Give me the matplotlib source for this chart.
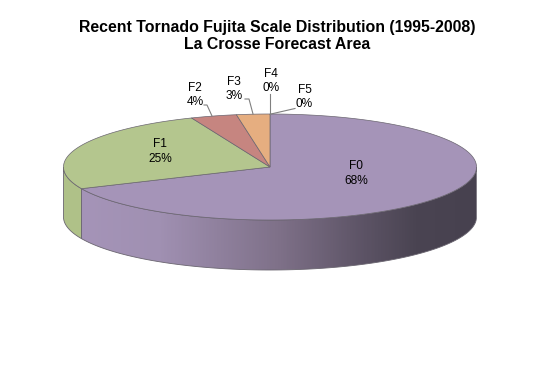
"""Recent tornado Fujita scale distribution, drawn as a tilted 3D pie"""

import numpy as np
import matplotlib
matplotlib.use('Agg')
import matplotlib.pyplot as plt
from matplotlib.colors import LinearSegmentedColormap
from matplotlib.patches import PathPatch, Polygon
from matplotlib.path import Path

plt.rcParams['font.family'] = ['Liberation Sans', 'DejaVu Sans']

# data
scales = ['F0', 'F1', 'F2', 'F3', 'F4', 'F5']
shares = [68.3, 25.5, 3.6, 2.6, 0.0, 0.0]
percent_labels = ['68%', '25%', '4%', '3%', '0%', '0%']
colors = ['#A594B8', '#B4C68E', '#C68580', '#E6AE80', '#A594B8', '#A594B8']
side_color_f1 = '#AFC188'

title_lines = 'Recent Tornado Fujita Scale Distribution (1995-2008)\nLa Crosse Forecast Area'

# pie geometry in pixels
CX, CY = 270, 167
RX, RY = 206.5, 53
DEPTH = 50
EDGE = '#6A6570'

# label centres and leader lines, in pixels
label_pos = {
    'F0': (356, 173.5), 'F1': (160, 151.5), 'F2': (195, 95),
    'F3': (234, 89), 'F4': (271, 81), 'F5': (304.5, 97),
}
leaders = {
    'F2': [(204, 105), (207, 105), (212, 116)],
    'F3': [(245, 99), (249, 99), (253, 114)],
    'F4': [(270, 94), (270, 114)],
    'F5': [(295, 108.5), (271, 114)],
}


def rim(theta_deg):
    """角度(12時から時計回り)を楕円上のピクセル座標に変換"""
    t = np.radians(theta_deg)
    return CX + RX * np.sin(t), CY - RY * np.cos(t)


def side_wall(a, b):
    """a〜b度の側面ポリゴンの頂点"""
    th = np.linspace(a, b, 150)
    x, y = rim(th)
    top = np.column_stack([x, y])
    bottom = np.column_stack([x, y + DEPTH])[::-1]
    return np.vstack([top, bottom])


fig = plt.figure(figsize=(5.4, 3.68), dpi=100)
ax = fig.add_axes([0, 0, 1, 1])
ax.set_xlim(0, 540)
ax.set_ylim(368, 0)
ax.axis('off')

# slice boundaries
cum = np.cumsum([0] + shares) * 3.6

# side walls
f1_wall = Polygon(side_wall(cum[1], 270), closed=True, facecolor=side_color_f1,
                  edgecolor=EDGE, linewidth=0.6, zorder=1)
ax.add_patch(f1_wall)

wall_verts = side_wall(90, cum[1])
wall_patch = PathPatch(Path(np.vstack([wall_verts, wall_verts[:1]]), closed=True),
                       facecolor='none', edgecolor='none', zorder=2)
ax.add_patch(wall_patch)
wall_cmap = LinearSegmentedColormap.from_list(
    'wall', [(0.0, '#A594B8'), (0.2, '#A090B2'), (0.5, '#7F7189'),
             (0.72, '#5C5365'), (0.85, '#4A4452'), (1.0, '#47414F')])
grad = np.linspace(0, 1, 400).reshape(1, -1)
img = ax.imshow(grad, cmap=wall_cmap, extent=(80, 476, 280, 160), aspect='auto', zorder=2)
img.set_clip_path(wall_patch)
ax.set_xlim(0, 540)
ax.set_ylim(368, 0)
ax.add_patch(PathPatch(wall_patch.get_path(), facecolor='none', edgecolor=EDGE,
                       linewidth=0.6, zorder=3))

# top face
for i, name in enumerate(scales):
    if shares[i] <= 0:
        continue
    th = np.linspace(cum[i], cum[i + 1], 200)
    x, y = rim(th)
    pts = np.vstack([[CX, CY], np.column_stack([x, y])])
    ax.add_patch(Polygon(pts, closed=True, facecolor=colors[i], edgecolor=EDGE,
                         linewidth=0.5, zorder=4))

# leader lines
for name, pts in leaders.items():
    xs, ys = zip(*pts)
    ax.plot(xs, ys, color='#808080', linewidth=0.8, zorder=5)

# data labels
for name, pct in zip(scales, percent_labels):
    lx, ly = label_pos[name]
    ax.text(lx, ly, f'{name}\n{pct}', ha='center', va='center', fontsize=8.6,
            color='black', linespacing=1.25, zorder=6)

ax.text(277, 36, title_lines, ha='center', va='center', fontsize=11.4,
        fontweight='bold', color='black', linespacing=1.14)

fig.savefig('out.png', dpi=100)
